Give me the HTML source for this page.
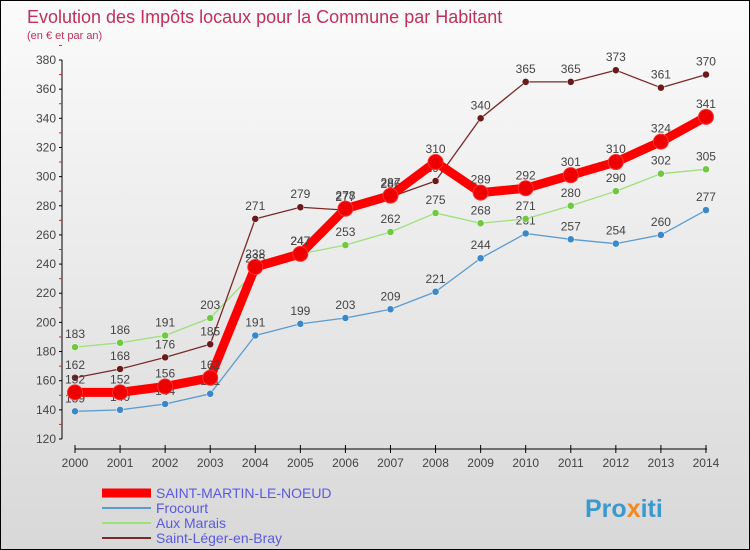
<!DOCTYPE html>
<html><head><meta charset="utf-8"><style>
body{margin:0}
#c{width:748px;height:548px;border:1px solid #000;background:linear-gradient(#fbfbfb,#d8d8d8);position:relative;overflow:hidden;font-family:"Liberation Sans",sans-serif}
</style></head><body>
<div id="c">
<svg width="748" height="548" id="svg">
<text x="26" y="22" font-size="18" fill="#c0305a">Evolution des Impôts locaux pour la Commune par Habitant</text>
<text x="26" y="38" font-size="11" fill="#c0305a">(en € et par an)</text>
<g id="axes"></g><g id="series"></g><g id="legend"></g>
<text x="584" y="516" font-size="25" font-weight="bold" fill="#3a9ad0">Pro<tspan fill="#f08a20">x</tspan>iti</text>
</svg></div>
<script>
const years=["2000","2001","2002","2003","2004","2005","2006","2007","2008","2009","2010","2011","2012","2013","2014"];
const yTicks=[120,140,160,180,200,220,240,260,280,300,320,340,360,380];
const stMartin=[152,152,156,162,238,247,278,287,310,289,292,301,310,324,341];
const frocourt=[139,140,144,151,191,199,203,209,221,244,261,257,254,260,277];
const auxMarais=[183,186,191,203,235,247,253,262,275,268,271,280,290,302,305];
const stLeger=[162,168,176,185,271,279,277,286,297,340,365,365,373,361,370];
const NS="http://www.w3.org/2000/svg";
const X=i=>74+i*45.07, Y=v=>438-(v-120)*379/260;
function mk(t,a,p){const e=document.createElementNS(NS,t);for(const k in a)e.setAttribute(k,a[k]);p.appendChild(e);return e;}
const ax=document.getElementById('axes');
const yl=mk('line',{x1:61,y1:59,x2:61,y2:438,stroke:'#000'},ax);


yTicks.forEach(v=>{
  mk('line',{x1:58,x2:61,y1:Y(v),y2:Y(v),stroke:'#000'},ax);
  mk('line',{x1:58,x2:61,y1:Y(v+10),y2:Y(v+10),stroke:'#e02020'},ax);
  const t=mk('text',{x:55,y:Y(v)+4,'font-size':12,'text-anchor':'end',fill:'#444'},ax);t.textContent=v;
  
  
});
const xl=mk('line',{x1:74,y1:448,x2:706,y2:448,stroke:'#000'},ax);


years.forEach((y,i)=>{
  mk('line',{x1:X(i),x2:X(i),y1:444,y2:452,stroke:'#000'},ax);
  const t=mk('text',{x:X(i),y:466,'font-size':12,'text-anchor':'middle',fill:'#444'},ax);t.textContent=y;
  
  
});
const series=[
 {name:'Frocourt',d:frocourt,c:'#5b9bd0',dot:'#3a88c8',w:1.3,r:3.5},
 {name:'Aux Marais',d:auxMarais,c:'#9ee07a',dot:'#70c840',w:1.3,r:3.5},
 {name:'Saint-Léger-en-Bray',d:stLeger,c:'#7a2a2a',dot:'#6a1a1a',w:1.3,r:3.5},
 {name:'SAINT-MARTIN-LE-NOEUD',d:stMartin,c:'#ff0000',dot:'#ee0000',w:9,r:7.5},
];
const sg=document.getElementById('series');
series.forEach(s=>{
  const g=mk('g',{},sg);
  
  
  mk('polyline',{points:s.d.map((v,i)=>X(i)+','+Y(v)).join(' '),fill:'none',stroke:s.c,'stroke-width':s.w,'stroke-linejoin':'round'},g);
  s.d.forEach((v,i)=>{
    const p=mk('circle',{cx:X(i),cy:Y(v),r:s.r,fill:s.dot,stroke:s.w>2?'#ff3030':'#fff','stroke-width':s.w>2?1:0.5},g);
    
    
    const t=mk('text',{x:X(i),y:Y(v)-9,'font-size':12,'text-anchor':'middle',fill:'#444'},g);t.textContent=v;
    
    
  });
});
const lg=document.getElementById('legend');
[series[3],series[0],series[1],series[2]].forEach((s,i)=>{
  const y=492+i*15;
  const g=mk('g',{},lg);
  
  
  mk('line',{x1:101,x2:150,y1:y,y2:y,stroke:s.c,'stroke-width':s.w>2?9:2},g);
  const t=mk('text',{x:155,y:y+5,'font-size':14,fill:'#5a5ae0'},g);t.textContent=s.name;
});
</script>
</body></html>
